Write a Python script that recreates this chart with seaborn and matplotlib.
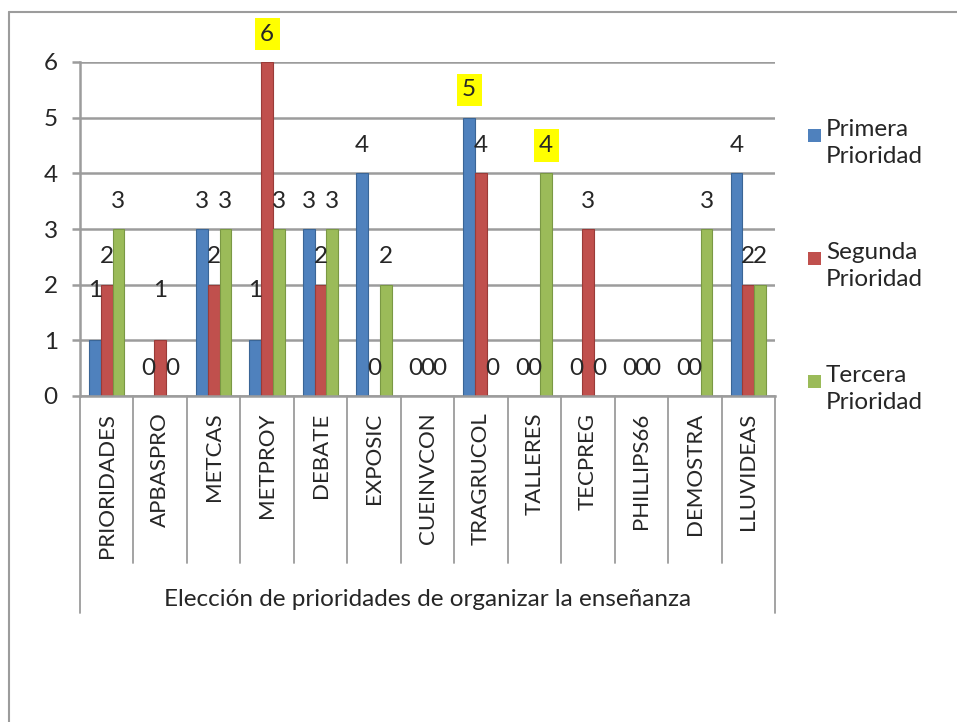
import seaborn as sns
import matplotlib.pyplot as plt
import matplotlib.transforms as mtransforms
from matplotlib.lines import Line2D
from matplotlib.patches import Rectangle
import numpy as np
import pandas as pd

# datos
categorias = ['PRIORIDADES', 'APBASPRO', 'METCAS', 'METPROY', 'DEBATE', 'EXPOSIC',
              'CUEINVCON', 'TRAGRUCOL', 'TALLERES', 'TECPREG', 'PHILLIPS66',
              'DEMOSTRA', 'LLUVIDEAS']
primera = [1, 0, 3, 1, 3, 4, 0, 5, 0, 0, 0, 0, 4]
segunda = [2, 1, 2, 6, 2, 0, 0, 4, 0, 3, 0, 0, 2]
tercera = [3, 0, 3, 3, 3, 2, 0, 0, 4, 0, 0, 3, 2]
series = ['Primera Prioridad', 'Segunda Prioridad', 'Tercera Prioridad']
colores = ['#4F81BD', '#C0504D', '#9BBB59']
bordes = ['#3A6596', '#9A3B38', '#7A9844']
# etiquetas resaltadas en amarillo: (categoria, serie)
resaltados = [('METPROY', 1), ('TRAGRUCOL', 0), ('TALLERES', 2)]
titulo_x = 'Elección de prioridades de organizar la enseñanza'

valores = [primera, segunda, tercera]
df = pd.DataFrame({
    'Categoria': categorias * 3,
    'Prioridad': [s for s in series for _ in categorias],
    'Valor': primera + segunda + tercera,
})

sns.set_style('white')
plt.rcParams['font.family'] = ['Lato', 'DejaVu Sans']
fs = 17.5
gris = '#9C9C9C'

W, H = 957, 722
fig = plt.figure(figsize=(W / 100, H / 100), dpi=100)
ax = fig.add_axes([80 / W, 1 - 396 / H, 695 / W, 334 / H])

sns.barplot(data=df, x='Categoria', y='Valor', hue='Prioridad', palette=colores,
            width=0.66, gap=0, ax=ax, legend=False, saturation=1)

for cont, borde in zip(ax.containers, bordes):
    for bar in cont:
        bar.set_edgecolor(borde)
        bar.set_linewidth(0.8)

ax.set_xlim(-0.5, len(categorias) - 0.5)
ax.set_ylim(0, 6)
ax.set_yticks(range(0, 7))
ax.yaxis.grid(True, color=gris, lw=1.8)
ax.set_axisbelow(True)
for side in ['top', 'right']:
    ax.spines[side].set_visible(False)
ax.spines['left'].set_color(gris)
ax.spines['left'].set_linewidth(1.8)
ax.spines['bottom'].set_color(gris)
ax.spines['bottom'].set_linewidth(1.8)
ax.tick_params(axis='y', left=True, length=6, width=1.8, color=gris, pad=10,
               labelsize=fs)
ax.tick_params(axis='x', bottom=False, length=0, pad=12, labelsize=16, rotation=90)
ax.set_xlabel('')
ax.set_ylabel('')

# etiquetas de datos
for i, (cont, vals) in enumerate(zip(ax.containers, valores)):
    for j, (bar, v) in enumerate(zip(cont, vals)):
        x = bar.get_x() + bar.get_width() / 2
        y = v + (0.9 if v == 1 else 0.5)
        caja = None
        if (categorias[j], i) in resaltados:
            caja = dict(facecolor='yellow', edgecolor='none', pad=4)
        ax.text(x, y, str(v), ha='center', va='center', fontsize=fs,
                bbox=caja, clip_on=False)

# separadores de la tabla de categorias
trans = mtransforms.blended_transform_factory(ax.transData, ax.transAxes)
bordes_x = np.arange(-0.5, len(categorias), 1)
for k, b in enumerate(bordes_x):
    fondo = -0.65 if k in (0, len(bordes_x) - 1) else -0.50
    ax.add_line(Line2D([b, b], [0, fondo], transform=trans, color=gris,
                       lw=1.3, clip_on=False))

ax.text(0.5, -0.61, titulo_x, transform=ax.transAxes, ha='center', va='center',
        fontsize=fs)

# leyenda
for k, (s, c) in enumerate(zip(series, colores)):
    y0 = 135 + 123 * k
    fig.add_artist(Rectangle((808 / W, 1 - (y0 + 7) / H), 13 / W, 13 / H,
                             transform=fig.transFigure, facecolor=c, edgecolor='none'))
    fig.text(826 / W, 1 - (y0 - 16) / H, s.replace(' ', '\n'), fontsize=fs,
             va='top', ha='left', linespacing=1.35)

# borde del area del grafico
fig.add_artist(Line2D([9 / W, 9 / W], [0, 1 - 12 / H], transform=fig.transFigure,
                      color=gris, lw=1.5))
fig.add_artist(Line2D([9 / W, 1], [1 - 12 / H, 1 - 12 / H], transform=fig.transFigure,
                      color=gris, lw=1.5))

fig.savefig('out.png', dpi=100)
